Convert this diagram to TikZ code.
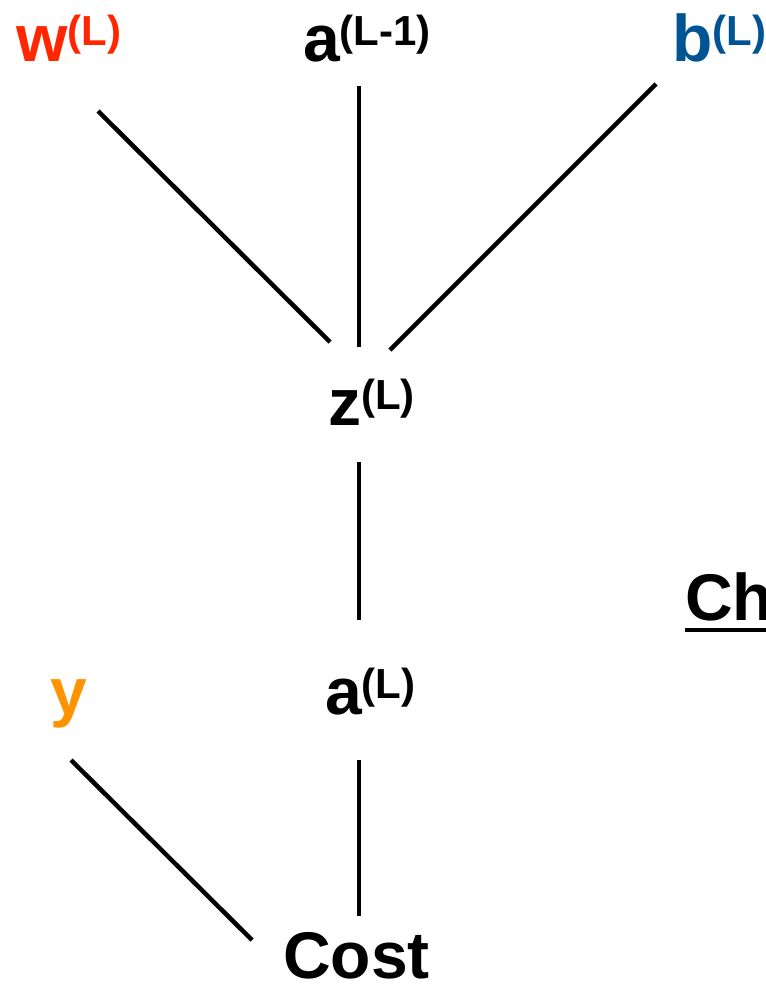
\documentclass[tikz,border=0pt]{standalone}
\usepackage{fontspec}
\setmainfont{Liberation Sans}
\definecolor{wred}{RGB}{255,38,0}
\definecolor{bblue}{RGB}{0,84,147}
\definecolor{yorange}{RGB}{255,147,0}
\newcommand{\supx}[1]{\raisebox{16pt}{\fontsize{42}{46}\selectfont #1}}
\begin{document}
\begin{tikzpicture}[x=1pt,y=-1pt,
  lbl/.style={anchor=base west, inner sep=0pt, font=\fontsize{66}{70}\selectfont\bfseries},
  conn/.style={line width=4.5pt}]
\useasboundingbox (0,0) rectangle (766,986);
\node[lbl, text=wred] (w) at (16,61) {w\supx{(L)}};
\node[lbl] (aprev) at (303,61) {a\supx{(L-1)}};
\node[lbl, text=bblue] (b) at (672,61) {b\supx{(L)}};
\node[lbl] (z) at (328,425) {z\supx{(L)}};
\node[lbl] (a) at (325,714) {a\supx{(L)}};
\node[lbl, text=yorange] (y) at (50,714) {y};
\node[lbl] (cost) at (283,978) {Cost};
\node[lbl] (ch) at (685,620) {Ch};
\coordinate (wend) at (98,111);
\coordinate (zw) at (330,342);
\coordinate (apend) at (359,86);
\coordinate (za) at (359,347);
\coordinate (bend) at (656,84);
\coordinate (zb) at (390,350);
\coordinate (zdown) at (359,462);
\coordinate (aup) at (359,620);
\coordinate (adown) at (359,760);
\coordinate (costa) at (359,916);
\coordinate (ydown) at (71,760);
\coordinate (costy) at (252,940);
\coordinate (chu1) at (685,630);
\coordinate (chu2) at (766,630);
\draw[conn] (wend) -- (zw);
\draw[conn] (apend) -- (za);
\draw[conn] (bend) -- (zb);
\draw[conn] (zdown) -- (aup);
\draw[conn] (adown) -- (costa);
\draw[conn] (ydown) -- (costy);
\draw[line width=3.5pt] (chu1) -- (chu2);
\end{tikzpicture}
\end{document}
